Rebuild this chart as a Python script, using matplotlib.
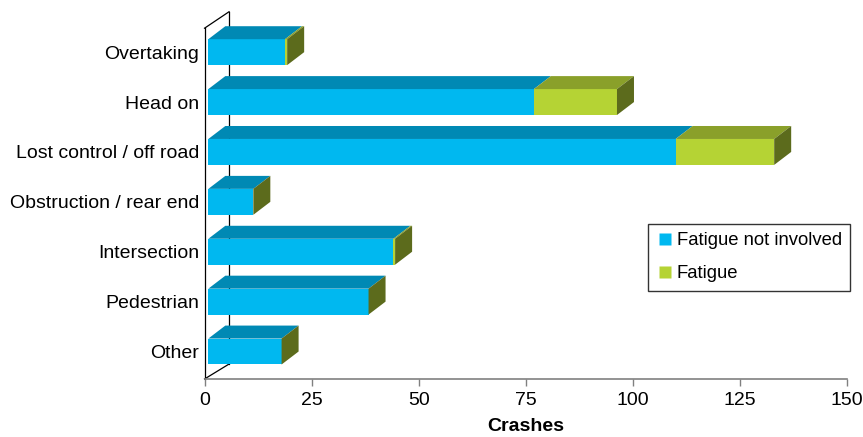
import matplotlib
matplotlib.use("Agg")
import matplotlib.pyplot as plt
from matplotlib.patches import Polygon, Rectangle
from matplotlib.lines import Line2D

# ---- data (top to bottom as shown) ----
categories = ["Overtaking", "Head on", "Lost control / off road",
              "Obstruction / rear end", "Intersection", "Pedestrian", "Other"]
not_involved = [17.9, 76.0, 109.1, 10.5, 43.2, 37.4, 17.1]
fatigue = [0.5, 19.4, 23.0, 0.0, 0.4, 0.0, 0.0]
series_names = ["Fatigue not involved", "Fatigue"]

# colours: front, top, side
blue_front, blue_top = "#00B8F0", "#0089B4"
green_front, green_top = "#B5D334", "#8AA02A"
side_col = "#5C6B1C"

plt.rcParams["font.family"] = ["Liberation Sans", "DejaVu Sans"]

fig = plt.figure(figsize=(8.63, 4.37), dpi=100)
ax = fig.add_axes([0.237, 0.1327, 0.7445, 0.845])
ax.set_xlim(0, 150)
ax.set_ylim(-0.551, 6.85)

# 3-D look: offset of the bar front plane and depth of the bars/walls
off_x, off_y = 0.89, 0.0
bar_h = 0.52
dep_x, dep_y = 3.97, 0.26
wall_x, wall_y = 5.72, 0.30
wall_top = 6.48

n = len(categories)
ypos = [n - 1 - i for i in range(n)]

# walls (behind bars)
wall_kw = dict(color="black", lw=0.9, zorder=1, clip_on=False)
ax.add_line(Line2D([0, 0], [-0.551, wall_top], **wall_kw))
ax.add_line(Line2D([wall_x, wall_x], [-0.551 + wall_y, wall_top + wall_y + 0.03], **wall_kw))
ax.add_line(Line2D([0, wall_x], [wall_top, wall_top + wall_y + 0.03], **wall_kw))
ax.add_line(Line2D([0, wall_x], [-0.551, -0.551 + wall_y], **wall_kw))

for y, a, b in zip(ypos, not_involved, fatigue):
    yc = y + off_y
    y0, y1 = yc - bar_h / 2, yc + bar_h / 2
    x0 = off_x
    segs = [(x0, x0 + a, blue_front, blue_top), (x0 + a, x0 + a + b, green_front, green_top)]
    for s0, s1, fc, tc in segs:
        if s1 - s0 <= 0:
            continue
        ax.add_patch(Rectangle((s0, y0), s1 - s0, bar_h, facecolor=fc, edgecolor="none", zorder=3))
        ax.add_patch(Polygon([(s0, y1), (s1, y1), (s1 + dep_x, y1 + dep_y), (s0 + dep_x, y1 + dep_y)],
                             closed=True, facecolor=tc, edgecolor="none", zorder=3))
    xe = x0 + a + b
    ax.add_patch(Polygon([(xe, y0), (xe + dep_x, y0 + dep_y), (xe + dep_x, y1 + dep_y), (xe, y1)],
                         closed=True, facecolor=side_col, edgecolor="none", zorder=3))

# axes styling
for s in ["top", "right", "left"]:
    ax.spines[s].set_visible(False)
ax.spines["bottom"].set_color("#808080")
ax.spines["bottom"].set_linewidth(1.2)
ax.set_xticks([0, 25, 50, 75, 100, 125, 150])
ax.tick_params(axis="x", direction="out", length=5, width=1, color="#808080",
               labelsize=14, pad=4)
ax.set_yticks(ypos)
ax.set_yticklabels(categories)
ax.tick_params(axis="y", length=0, labelsize=14, pad=4)
ax.set_xlabel("Crashes", fontsize=14, fontweight="bold", labelpad=7)

handles = [Line2D([], [], marker="s", linestyle="none", markersize=8,
                  markerfacecolor=c, markeredgecolor="none") for c in (blue_front, green_front)]
leg = fig.legend(handles, series_names, loc="upper left", bbox_to_anchor=(0.751, 0.487),
                 fontsize=13.3, frameon=True, fancybox=False, edgecolor="black",
                 handletextpad=0.2, handlelength=0.9, labelspacing=0.85,
                 borderpad=0.45, borderaxespad=0)
leg.get_frame().set_linewidth(1.0)

fig.savefig("out.png", dpi=100)
